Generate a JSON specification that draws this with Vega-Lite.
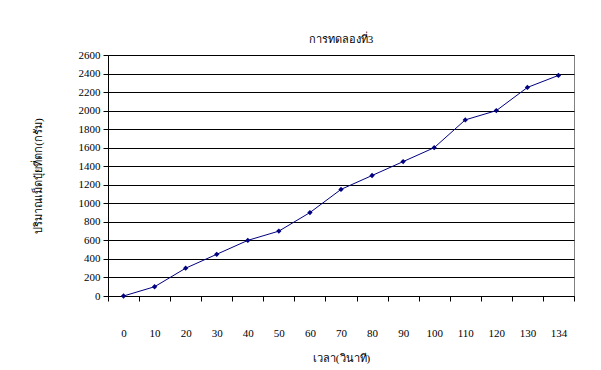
{
  "$schema": "https://vega.github.io/schema/vega-lite/v6.json",
  "autosize": "none",
  "width": 466,
  "height": 241,
  "padding": {"left": 108, "top": 55, "right": 27, "bottom": 74},
  "background": "white",
  "title": {
    "text": "การทดลองที่3",
    "font": "serif",
    "fontSize": 11,
    "fontWeight": "normal",
    "color": "black",
    "offset": 4,
    "anchor": "middle"
  },
  "config": {
    "view": {"stroke": "#808080", "strokeWidth": 1},
    "font": "serif"
  },
  "data": {
    "values": [
      {"t": "0", "g": 0},
      {"t": "10", "g": 100},
      {"t": "20", "g": 300},
      {"t": "30", "g": 450},
      {"t": "40", "g": 600},
      {"t": "50", "g": 700},
      {"t": "60", "g": 900},
      {"t": "70", "g": 1150},
      {"t": "80", "g": 1300},
      {"t": "90", "g": 1450},
      {"t": "100", "g": 1600},
      {"t": "110", "g": 1900},
      {"t": "120", "g": 2000},
      {"t": "130", "g": 2250},
      {"t": "134", "g": 2380}
    ]
  },
  "encoding": {
    "x": {
      "field": "t",
      "type": "ordinal",
      "sort": null,
      "scale": {"type": "band", "paddingInner": 0, "paddingOuter": 0},
      "axis": {
        "title": "เวลา(วินาที)",
        "titleFont": "serif",
        "titleFontSize": 11,
        "titleFontWeight": "normal",
        "titleColor": "black",
        "titlePadding": 14,
        "labelAngle": 0,
        "labelFont": "serif",
        "labelFontSize": 11,
        "labelColor": "black",
        "labelPadding": 26,
        "tickBand": "extent",
        "tickSize": 5,
        "tickColor": "black",
        "domainColor": "black",
        "grid": false
      }
    },
    "y": {
      "field": "g",
      "type": "quantitative",
      "scale": {"domain": [0, 2600], "nice": false},
      "axis": {
        "title": "ปริมาณเม็ดปุ๋ยที่ตก(กรัม)",
        "titleFont": "serif",
        "titleFontSize": 11,
        "titleFontWeight": "normal",
        "titleColor": "black",
        "titlePadding": 35,
        "values": [0, 200, 400, 600, 800, 1000, 1200, 1400, 1600, 1800, 2000, 2200, 2400, 2600],
        "format": "d",
        "labelFont": "serif",
        "labelFontSize": 11,
        "labelColor": "black",
        "labelPadding": 3,
        "tickSize": 5,
        "tickColor": "black",
        "domainColor": "black",
        "grid": true,
        "gridColor": "black",
        "gridOpacity": 1
      }
    }
  },
  "layer": [
    {"mark": {"type": "line", "color": "#000080", "strokeWidth": 1}},
    {"mark": {"type": "point", "shape": "diamond", "filled": true, "color": "#000080", "size": 28, "opacity": 1}}
  ]
}
